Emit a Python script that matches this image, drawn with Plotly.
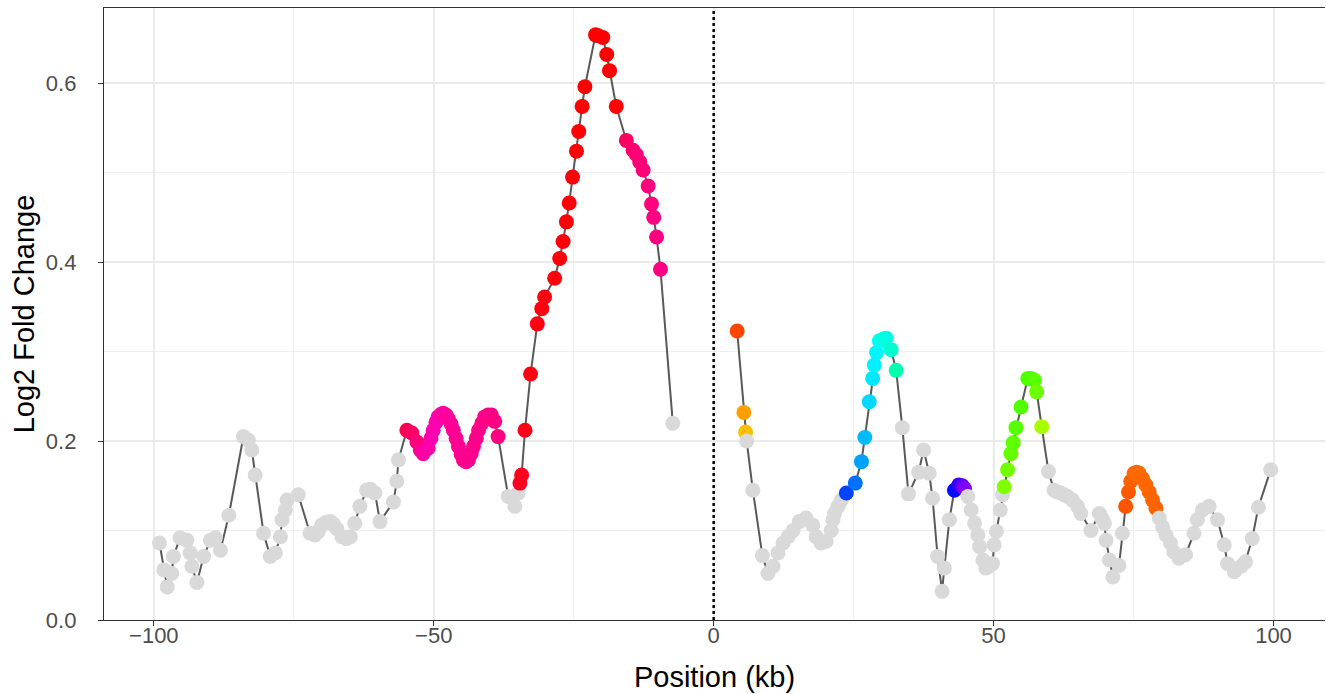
import plotly.graph_objects as go

# Position (kb) and log2 fold change, in x order
pos_kb = [
    -99.0, -98.2, -97.6, -96.8, -96.5, -95.3, -94.1, -93.5, -93.2, -92.3,
    -91.1, -89.9, -89.0, -88.1, -86.6, -84.0, -83.1, -82.5, -81.9, -80.4,
    -79.2, -78.3, -77.4, -77.1, -76.5, -76.2, -74.2, -72.1, -71.2, -70.6,
    -70.0, -69.3, -68.5, -67.9, -67.3, -66.4, -65.6, -64.9, -64.1, -63.2,
    -62.0, -61.3, -60.5, -59.6, -57.2, -56.6, -56.3,
    -54.8, -53.9, -53.0, -52.4, -51.9, -51.0, -50.5, -50.1, -49.6, -49.2,
    -48.7, -48.3, -47.8, -47.4, -46.9, -46.5, -46.0, -45.6, -45.1, -44.7,
    -44.2, -43.8, -43.3, -42.9, -42.4, -42.0, -41.4, -40.9, -40.3, -39.7,
    -39.1, -38.5,
    -36.7, -35.5, -34.9,
    -34.6, -34.3, -33.7, -32.7, -31.5, -30.7, -30.2, -28.4, -27.5, -26.9,
    -26.3, -25.8, -25.2, -24.5, -24.1, -23.5, -23.0, -21.1, -20.6, -19.8,
    -19.1, -18.6, -17.4,
    -15.6, -14.4, -13.8, -13.2, -12.6, -11.7, -11.1, -10.7, -10.2, -9.5,
    -7.3,
    4.2, 5.4, 5.7, 5.9, 7.0, 8.7, 9.7, 10.6, 11.5, 12.4,
    13.3, 14.2, 15.3, 16.5, 17.7, 18.3, 19.2, 20.1, 21.0, 21.3,
    21.6, 22.2, 22.8,
    23.7, 25.3, 26.4, 27.0, 27.8, 28.4, 28.7, 29.1, 29.6, 30.3,
    30.8, 31.7, 32.6,
    33.7, 34.8, 36.6, 37.5, 38.5, 39.1, 40.0, 40.8, 41.2, 42.1,
    43.0, 43.8, 44.4, 44.8,
    45.4, 46.0, 46.6, 47.2, 47.5, 48.1, 48.6, 49.2, 49.8, 50.1,
    50.5, 51.2, 51.6,
    51.9, 52.5, 53.1, 53.5, 54.0, 54.9, 56.1, 56.7, 57.3, 57.7,
    58.6,
    59.8, 60.8, 61.4, 62.0, 62.6, 63.2, 64.1, 65.0, 65.6, 67.4,
    68.9, 69.4, 69.8, 70.1, 70.7, 71.3, 72.4, 73.0,
    73.6, 74.1, 74.5, 75.1, 75.6, 76.0, 76.6, 77.2, 77.8, 78.4,
    79.0,
    79.6, 80.2, 80.8, 81.6, 82.2, 83.1, 84.3, 85.8, 86.4, 87.3,
    88.5, 90.0, 91.2, 91.8, 93.0, 94.2, 95.0, 96.2, 97.3, 99.5,
]

log2fc = [
    0.086, 0.056, 0.037, 0.052, 0.071, 0.092, 0.089, 0.075, 0.060, 0.042,
    0.071, 0.089, 0.092, 0.078, 0.117, 0.205, 0.201, 0.190, 0.162, 0.097,
    0.071, 0.075, 0.093, 0.112, 0.123, 0.134, 0.140, 0.097, 0.095, 0.099,
    0.106, 0.109, 0.110, 0.107, 0.102, 0.093, 0.091, 0.093, 0.108, 0.127,
    0.145, 0.146, 0.142, 0.110, 0.132, 0.155, 0.179,
    0.212, 0.209, 0.199, 0.190, 0.186, 0.192, 0.203, 0.212, 0.221, 0.227,
    0.230, 0.231, 0.229, 0.225, 0.219, 0.212, 0.203, 0.194, 0.185, 0.179,
    0.177, 0.179, 0.186, 0.194, 0.203, 0.212, 0.220, 0.227, 0.229, 0.229,
    0.222, 0.205,
    0.138, 0.127, 0.142,
    0.153, 0.162, 0.212, 0.275, 0.331, 0.348, 0.361, 0.382, 0.404, 0.423,
    0.445, 0.466, 0.495, 0.524, 0.546, 0.574, 0.596, 0.654, 0.653, 0.651,
    0.632, 0.614, 0.574,
    0.536, 0.525, 0.520, 0.512, 0.503, 0.485, 0.465, 0.450, 0.428, 0.392,
    0.220,
    0.323, 0.232, 0.210, 0.200, 0.145, 0.072, 0.052, 0.060, 0.075, 0.086,
    0.093, 0.100, 0.110, 0.114, 0.106, 0.093, 0.086, 0.088, 0.100, 0.112,
    0.119, 0.127, 0.134,
    0.142, 0.153, 0.177, 0.204, 0.244, 0.270, 0.285, 0.299, 0.312, 0.314,
    0.315, 0.302, 0.279,
    0.215, 0.141, 0.165, 0.190, 0.164, 0.136, 0.071, 0.032, 0.058, 0.112,
    0.145, 0.151, 0.150, 0.147,
    0.138, 0.123, 0.108, 0.095, 0.082, 0.067, 0.058, 0.060, 0.063, 0.084,
    0.099, 0.123, 0.140,
    0.149, 0.168, 0.186, 0.198, 0.215, 0.238, 0.270, 0.270, 0.268, 0.255,
    0.216,
    0.166, 0.145, 0.143, 0.142, 0.140, 0.138, 0.134, 0.127, 0.119, 0.100,
    0.119, 0.113, 0.108, 0.089, 0.067, 0.048, 0.061, 0.097,
    0.127, 0.143, 0.155, 0.164, 0.165, 0.164, 0.158, 0.151, 0.143, 0.134,
    0.125,
    0.114, 0.104, 0.095, 0.086, 0.076, 0.069, 0.073, 0.097, 0.112, 0.123,
    0.127, 0.112, 0.084, 0.063, 0.054, 0.060, 0.065, 0.091, 0.126, 0.168,
]

G = "#D9D9D9"
point_colors = (
    [G] * 47
    + ["#FF0050", "#FF0062", "#FF0078", "#FF008E", "#FF00A0", "#FF00A8", "#FF00AE", "#FF00B2",
       "#FF00B0", "#FF00AC", "#FF00A8", "#FF00A4", "#FF00A0", "#FF009C", "#FF0098", "#FF0096",
       "#FF0094", "#FF0092", "#FF0090", "#FF0090", "#FF008E", "#FF008E", "#FF008C", "#FF008C",
       "#FF008A", "#FF008A", "#FF0088", "#FF0088", "#FF0086", "#FF0085", "#FF0084", "#FF0080"]
    + [G] * 3
    + ["#FF0022", "#FF001E", "#FF0018", "#FF0014", "#FF0012", "#FF0010", "#FF0010", "#FF000C",
       "#FF000A", "#FF0008", "#FF0008", "#FF0006", "#FF0005", "#FF0004", "#FF0003", "#FF0002",
       "#FF0001", "#FF0000", "#FF0000", "#FF0000", "#FF0000", "#FF0000", "#FF0004"]
    + ["#FF0060", "#FF0070", "#FF0074", "#FF0076", "#FF0078", "#FF007C", "#FF007E", "#FF0080",
       "#FF0082", "#FF0084"]
    + [G]
    + ["#FF4500", "#FFA000", "#FFC000"]
    + [G] * 20
    + ["#0044FF", "#0070FF", "#00A0FF", "#00BBFF", "#00D8FF", "#00E8FF", "#00F0FF", "#00F6FF",
       "#00FFF4", "#00FFEA", "#00FFE0", "#00FFD0", "#00FFB0"]
    + [G] * 10
    + ["#0010FF", "#3000FF", "#5A00FF", "#8000FF"]
    + [G] * 13
    + ["#80FF00", "#72FF00", "#66FF00", "#60FF00", "#58FF00", "#50FF00", "#50FF00", "#52FF00",
       "#58FF00", "#6AFF00", "#A8FF00"]
    + [G] * 18
    + ["#FF5500", "#FF5A00", "#FF6000", "#FF6800", "#FF6A00", "#FF6A00", "#FF6800", "#FF6600",
       "#FF6600", "#FF6400", "#FF6200"]
    + [G] * 20
)

x_ticks = [-100, -50, 0, 50, 100]
x_tick_text = ["\u2212100", "\u221250", "0", "50", "100"]
y_ticks = [0.0, 0.2, 0.4, 0.6]
y_tick_text = ["0.0", "0.2", "0.4", "0.6"]

FONT = "Liberation Sans, Arial, sans-serif"

fig = go.Figure()
# the line is drawn separately upstream and downstream of the centre
for side in (lambda v: v < 0, lambda v: v > 0):
    idx = [i for i, v in enumerate(pos_kb) if side(v)]
    fig.add_trace(go.Scatter(
        x=[pos_kb[i] for i in idx], y=[log2fc[i] for i in idx], mode="lines",
        line=dict(color="#595959", width=2), hoverinfo="skip", showlegend=False,
    ))
fig.add_trace(go.Scatter(
    x=pos_kb, y=log2fc, mode="markers",
    marker=dict(size=15, color=point_colors, line=dict(width=0)),
    hoverinfo="x+y", showlegend=False,
))

fig.add_shape(type="line", xref="x", yref="paper", x0=0, x1=0, y0=0, y1=1,
              line=dict(color="black", width=2.5, dash="dot"))

axis_common = dict(
    showgrid=True, gridcolor="#EBEBEB", gridwidth=2, automargin=False,
    zeroline=False, ticks="outside", ticklen=5, tickwidth=1.2, tickcolor="#333333",
    tickfont=dict(family=FONT, size=22, color="#4D4D4D"),
    showline=True, linecolor="#333333", linewidth=1.4,
    minor=dict(showgrid=True, gridcolor="#EFEFEF", gridwidth=1, ticks=""),
)

fig.update_layout(
    width=1326, height=694,
    margin=dict(l=104, r=1, t=8, b=74),
    paper_bgcolor="white", plot_bgcolor="white",
    font=dict(family=FONT, color="black"),
    xaxis=dict(
        **axis_common, range=[-108.9, 109.2], tickvals=x_ticks,
        ticktext=x_tick_text, mirror=True, ticklabelstandoff=-10,
        title=dict(text="Position (kb)", font=dict(family=FONT, size=29, color="black"), standoff=20),
    ),
    yaxis=dict(
        **axis_common, range=[0.0, 0.684], tickvals=y_ticks,
        ticktext=y_tick_text, mirror=False, ticklabelstandoff=17,
        title=dict(text="Log2 Fold Change", font=dict(family=FONT, size=29, color="black"), standoff=2),
    ),
)
fig.update_xaxes(minor=dict(tickvals=[-75, -25, 25, 75]))
fig.update_yaxes(minor=dict(tickvals=[0.1, 0.3, 0.5]))

fig.write_html("out.html", config={"displayModeBar": False},
               post_script="document.body.style.margin='0';")
